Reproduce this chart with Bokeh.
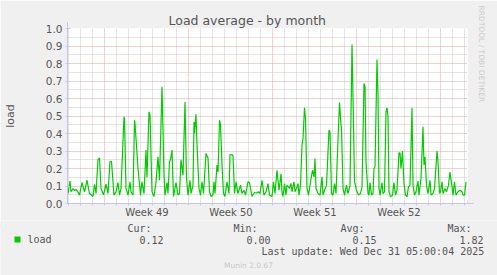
from datetime import datetime, timedelta
from bokeh.plotting import figure
from bokeh.layouts import column
from bokeh.models import (Range1d, FixedTicker, PrintfTickFormatter, Title, ColumnDataSource,
                          Arrow, NormalHead)
from bokeh.core.properties import value
from bokeh.embed import file_html
from bokeh.resources import INLINE

# ---------------- data ----------------
title_text = "Load average - by month"
y_label = "load"
series_name = "load"
stat_names = ["Cur:", "Min:", "Avg:", "Max:"]
stat_values = ["0.12", "0.00", "0.15", "1.82"]
last_update = "Last update: Wed Dec 31 05:00:04 2025"
credit = "Munin 2.0.67"
side_text = "RRDTOOL / TOBI OETIKER"
end_time = datetime(2025, 12, 31, 5, 0, 4)
span_minutes = 48000
y_ticks = [0.0, 0.1, 0.2, 0.3, 0.4, 0.5, 0.6, 0.7, 0.8, 0.9, 1.0]
y_minor = [0.05, 0.15, 0.25, 0.35, 0.45, 0.55, 0.65, 0.75, 0.85, 0.95]

# hours since start of the graph window, and load values
hours = [1, 5, 7, 11, 14, 17, 20, 24, 29, 34, 39, 44, 51, 54, 57, 61, 64, 67, 72, 77,
         81, 85, 88, 93, 97, 101, 104, 107, 113, 114, 117, 121, 125, 127, 131, 134, 135, 141, 146, 149,
         153, 157, 159, 163, 165, 169, 173, 177, 181, 184, 189, 193, 195, 199, 201, 204, 206, 209, 212, 217,
         221, 224, 227, 231, 235, 238, 241, 245, 247, 251, 253, 254, 257, 259, 263, 266, 269, 272, 277, 281,
         284, 287, 291, 293, 295, 299, 301, 304, 306, 309, 312, 315, 319, 323, 325, 331, 334, 337, 341, 346,
         349, 353, 356, 361, 364, 369, 374, 378, 382, 385, 389, 393, 397, 401, 404, 409, 412, 415, 419, 423,
         427, 429, 431, 434, 437, 439, 444, 447, 449, 453, 455, 459, 461, 463, 466, 469, 471, 474, 476, 479,
         482, 486, 490, 493, 495, 497, 501, 505, 509, 511, 514, 518, 523, 525, 528, 531, 534, 537, 541, 544,
         547, 548, 551, 554, 558, 561, 565, 569, 571, 574, 578, 582, 586, 589, 593, 595, 597, 601, 603, 605,
         608, 611, 613, 615, 619, 621, 623, 625, 629, 631, 634, 637, 639, 641, 643, 646, 650, 653, 656, 659,
         663, 665, 667, 670, 673, 676, 679, 682, 685, 689, 691, 694, 697, 701, 703, 707, 711, 713, 715, 718,
         721, 725, 727, 731, 734, 739, 741, 744, 746, 749, 751, 755, 758, 762, 765, 769, 771, 774, 777, 781,
         785, 789, 791, 794, 797]
load = [0.057, 0.128, 0.067, 0.085, 0.075, 0.080, 0.070, 0.048, 0.120, 0.067, 0.133, 0.057, 0.040, 0.110, 0.057, 0.250, 0.260, 0.086, 0.050, 0.110,
        0.057, 0.240, 0.240, 0.048, 0.067, 0.120, 0.048, 0.086, 0.495, 0.486, 0.086, 0.048, 0.124, 0.067, 0.048, 0.476, 0.457, 0.200, 0.048, 0.124,
        0.057, 0.305, 0.150, 0.524, 0.505, 0.067, 0.040, 0.124, 0.267, 0.133, 0.667, 0.162, 0.048, 0.120, 0.057, 0.240, 0.250, 0.305, 0.040, 0.120,
        0.048, 0.057, 0.250, 0.162, 0.580, 0.143, 0.048, 0.133, 0.057, 0.105, 0.467, 0.400, 0.510, 0.333, 0.086, 0.048, 0.124, 0.057, 0.286, 0.260,
        0.067, 0.040, 0.048, 0.124, 0.057, 0.220, 0.180, 0.476, 0.448, 0.220, 0.057, 0.040, 0.124, 0.057, 0.280, 0.276, 0.057, 0.124, 0.057, 0.105,
        0.057, 0.076, 0.048, 0.124, 0.120, 0.040, 0.063, 0.060, 0.067, 0.057, 0.133, 0.048, 0.067, 0.114, 0.048, 0.040, 0.124, 0.057, 0.190, 0.076,
        0.170, 0.067, 0.040, 0.114, 0.048, 0.105, 0.086, 0.114, 0.067, 0.124, 0.067, 0.095, 0.114, 0.048, 0.105, 0.333, 0.371, 0.547, 0.486, 0.086,
        0.048, 0.124, 0.190, 0.152, 0.257, 0.086, 0.057, 0.048, 0.152, 0.048, 0.076, 0.105, 0.420, 0.410, 0.057, 0.048, 0.114, 0.057, 0.362, 0.577,
        0.448, 0.432, 0.086, 0.048, 0.105, 0.057, 0.105, 0.909, 0.619, 0.124, 0.076, 0.048, 0.057, 0.095, 0.686, 0.667, 0.238, 0.057, 0.048, 0.120,
        0.048, 0.057, 0.200, 0.210, 0.823, 0.620, 0.086, 0.048, 0.120, 0.057, 0.067, 0.524, 0.547, 0.495, 0.067, 0.038, 0.048, 0.120, 0.048, 0.076,
        0.290, 0.290, 0.200, 0.300, 0.114, 0.048, 0.038, 0.095, 0.105, 0.547, 0.105, 0.048, 0.067, 0.128, 0.048, 0.143, 0.438, 0.220, 0.267, 0.105,
        0.057, 0.133, 0.048, 0.057, 0.086, 0.300, 0.238, 0.057, 0.067, 0.124, 0.057, 0.086, 0.067, 0.105, 0.180, 0.095, 0.048, 0.124, 0.048, 0.067,
        0.076, 0.067, 0.048, 0.048, 0.124]

# ---------------- derived time positions ----------------
start_time = end_time - timedelta(minutes=span_minutes)
span_hours = span_minutes / 60.0


def h_of(d):
    return (d - start_time).total_seconds() / 3600.0


first_midnight = datetime(start_time.year, start_time.month, start_time.day) + timedelta(days=1)
midnights = []
d = first_midnight
while d < end_time:
    midnights.append(d)
    d += timedelta(days=1)
week_starts = [m for m in midnights if m.weekday() == 0]
day_h = [h_of(m) for m in midnights if m.weekday() != 0]
week_h = [h_of(m) for m in week_starts]
label_pos = []
label_txt = {}
for m in [week_starts[0] - timedelta(days=7)] + week_starts:
    c = m + timedelta(days=3, hours=12)
    if start_time < c < end_time:
        pos = round(h_of(c))
        label_pos.append(pos)
        label_txt[pos] = "Week %d" % c.isocalendar()[1]

# ---------------- styles ----------------
FONT = "DejaVu Sans"
MONO = "DejaVu Sans Mono"
TXT = "#555555"
BG = "#F0F0F0"
AXIS_C = "#C4C4F0"
MGRID = "#E2A0A0"
GRID = "#C8C8C8"
GREEN = "#00CC00"
W = 497
H_MAIN = 220
H_LEG = 55

p = figure(width=W, height=H_MAIN, output_backend="svg", toolbar_location=None,
           x_range=Range1d(0, span_hours), y_range=Range1d(0, 1.0),
           min_border_left=67, min_border_right=30, min_border_top=28, min_border_bottom=17,
           border_fill_color=BG, background_fill_color="#FFFFFF",
           outline_line_color=None)
p.frame_align = False

p.title.text = title_text
p.title.align = "left"
p.title.offset = 101
p.title.standoff = 1
p.title.text_font = FONT
p.title.text_font_size = "12.5px"
p.title.text_font_style = "normal"
p.title.text_color = TXT

p.add_layout(Title(text=side_text, align="left", offset=-23, standoff=18,
                   text_font=FONT, text_font_size="7.5px", text_font_style="normal",
                   text_color="#CCCCCC"), "right")

src = ColumnDataSource(dict(h=hours, v=load))
p.line("h", "v", source=src, line_color=GREEN, line_width=1.2)

# x axis
xa = p.xaxis[0]
xa.ticker = FixedTicker(ticks=label_pos, minor_ticks=day_h + week_h)
xa.major_label_overrides = label_txt
xa.major_tick_line_color = None
xa.major_tick_out = 0
xa.major_tick_in = 0
xa.minor_tick_line_color = AXIS_C
xa.minor_tick_in = 0
xa.minor_tick_out = 2
xa.axis_line_color = AXIS_C
xa.major_label_text_font = FONT
xa.major_label_text_font_size = "10px"
xa.major_label_text_color = TXT
xa.major_label_standoff = 1

# y axis
ya = p.yaxis[0]
ya.ticker = FixedTicker(ticks=y_ticks)
ya.formatter = PrintfTickFormatter(format="%.1f")
ya.axis_line_color = AXIS_C
ya.major_tick_line_color = AXIS_C
ya.major_tick_in = 2
ya.major_tick_out = 2
ya.minor_tick_line_color = None
ya.major_label_text_font = FONT
ya.major_label_text_font_size = "10.5px"
ya.major_label_text_color = TXT
ya.major_label_standoff = 3
ya.axis_label = y_label
ya.axis_label_text_font = FONT
ya.axis_label_text_font_size = "11px"
ya.axis_label_text_font_style = "normal"
ya.axis_label_text_color = TXT
ya.axis_label_standoff = 26

# grids
p.xgrid.ticker = FixedTicker(ticks=week_h, minor_ticks=day_h)
p.xgrid.grid_line_color = MGRID
p.xgrid.grid_line_dash = "1 1"
p.xgrid.minor_grid_line_color = GRID
p.xgrid.minor_grid_line_dash = "1 1"
p.ygrid.ticker = FixedTicker(ticks=y_ticks[1:], minor_ticks=y_minor)
p.ygrid.grid_line_color = MGRID
p.ygrid.grid_line_dash = "1 1"
p.ygrid.minor_grid_line_color = GRID
p.ygrid.minor_grid_line_dash = "1 1"

# axis arrow heads
p.add_layout(Arrow(end=NormalHead(size=6, fill_color=AXIS_C, line_color=AXIS_C),
                   x_start=0, y_start=1.0, x_end=0, y_end=1.0 + 6 / 175.0,
                   line_color=AXIS_C, line_width=1))
p.add_layout(Arrow(end=NormalHead(size=6, fill_color=AXIS_C, line_color=AXIS_C),
                   x_start=span_hours, y_start=0, x_end=span_hours + 12, y_end=0,
                   line_color=AXIS_C, line_width=1))

# ---------------- legend strip (canvas pixel coordinates) ----------------
leg = figure(width=W, height=H_LEG, output_backend="svg", toolbar_location=None,
             x_range=Range1d(0, W), y_range=Range1d(H_MAIN + H_LEG, H_MAIN),
             min_border=0, x_axis_location=None, y_axis_location=None,
             border_fill_color=BG, background_fill_color=BG, outline_line_color=None)
leg.frame_align = False
leg.grid.visible = False

stat_x = [127, 233, 340, 447]
val_x = [139, 246, 352, 459]
row_head, row_vals, row_upd, row_credit = 228, 239, 251, 264.5

leg.rect(x=[17], y=[row_vals], width=6, height=6, fill_color=GREEN, line_color=None)
leg.text(x=[27], y=[row_vals], text=[series_name], text_font=value(MONO), text_font_size="10px",
         text_color=TXT, text_baseline="middle", text_align="left")
leg.text(x=stat_x, y=[row_head] * 4, text=stat_names, text_font=value(MONO), text_font_size="10px",
         text_color=TXT, text_baseline="middle", text_align="left")
leg.text(x=val_x, y=[row_vals] * 4, text=stat_values, text_font=value(MONO), text_font_size="10px",
         text_color=TXT, text_baseline="middle", text_align="left")
leg.text(x=[261], y=[row_upd], text=[last_update], text_font=value(MONO), text_font_size="10px",
         text_color=TXT, text_baseline="middle", text_align="left")
leg.text(x=[248], y=[row_credit], text=[credit], text_font=value(FONT), text_font_size="7.5px",
         text_color="#C8C8C8", text_baseline="middle", text_align="center")

layout = column(p, leg, spacing=0)
open("out.html", "w").write(file_html(layout, INLINE))
